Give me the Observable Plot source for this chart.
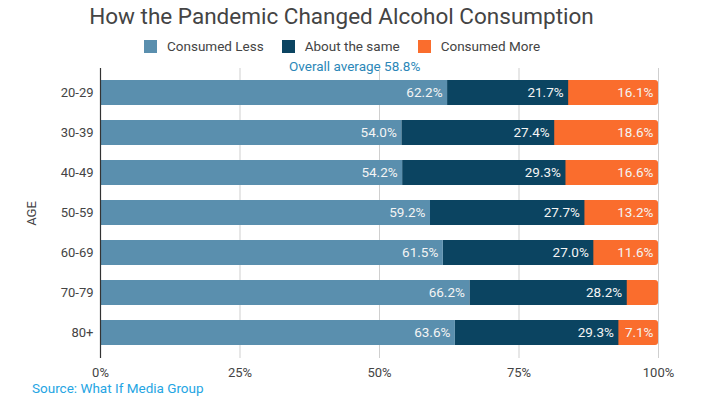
<!DOCTYPE html>
<html>
<head>
<meta charset="utf-8">
<script src="https://cdn.jsdelivr.net/npm/d3@7"></script>
<script src="https://cdn.jsdelivr.net/npm/@observablehq/plot@0.6"></script>
<style>
  html, body { margin: 0; padding: 0; background: #fff; }
  body { font-family: Roboto, "Liberation Sans", Arial, sans-serif; width: 703px; height: 399px; position: relative; overflow: hidden; }
  #title { position: absolute; left: 0; top: 0; width: 683px; height: 32px; line-height: 32px; font-size: 22.5px; color: #444; text-align: center; white-space: nowrap; }
  #legend { position: absolute; left: 144px; top: 38px; height: 16px; display: flex; align-items: center; font-size: 13.5px; color: #444; white-space: nowrap; }
  .item { display: flex; align-items: center; margin-right: 18px; }
  .sw { width: 13px; height: 13px; margin-right: 10px; }
  #avg { position: absolute; left: 289px; top: 59px; font-size: 13.5px; line-height: 15px; color: #2b87b8; white-space: nowrap; }
  #chart { position: absolute; left: 0; top: 57px; }
  #source { position: absolute; left: 32px; top: 380px; font-size: 13.5px; line-height: 16px; color: #25a5e3; white-space: nowrap; }
</style>
</head>
<body>
<div id="title"></div>
<div id="legend"></div>
<div id="avg"></div>
<div id="chart"></div>
<div id="source"></div>
<script>
const titleText = "How the Pandemic Changed Alcohol Consumption";
const avgText = "Overall average 58.8%";
const sourceText = "Source: What If Media Group";
const axisLabel = "AGE";

const ages = ["20-29", "30-39", "40-49", "50-59", "60-69", "70-79", "80+"];
const series = ["Consumed Less", "About the same", "Consumed More"];
const colors = ["#5a8fae", "#0b4461", "#fa6d2d"];
const lessVals = [62.2, 54.0, 54.2, 59.2, 61.5, 66.2, 63.6];
const sameVals = [21.7, 27.4, 29.3, 27.7, 27.0, 28.2, 29.3];
const moreVals = [16.1, 18.6, 16.6, 13.2, 11.6, 5.6, 7.1];
const moreShown = [true, true, true, true, true, false, true];
const xTicks = [0, 25, 50, 75, 100];

document.getElementById("title").textContent = titleText;
document.getElementById("avg").textContent = avgText;
document.getElementById("source").textContent = sourceText;

const legend = document.getElementById("legend");
series.forEach((s, i) => {
  const item = document.createElement("div");
  item.className = "item";
  const sw = document.createElement("div");
  sw.className = "sw";
  sw.style.background = colors[i];
  const t = document.createElement("span");
  t.textContent = s;
  item.appendChild(sw);
  item.appendChild(t);
  legend.appendChild(item);
});

// Build stacked rows (normalized to 100%)
const rows = [];
ages.forEach((age, i) => {
  const vals = [lessVals[i], sameVals[i], moreVals[i]];
  const shown = [true, true, moreShown[i]];
  const total = vals[0] + vals[1] + vals[2];
  let cum = 0;
  vals.forEach((v, j) => {
    const x1 = cum / total * 100;
    cum += v;
    const x2 = cum / total * 100;
    rows.push({age, series: series[j], value: v, x1, x2, shown: shown[j]});
  });
});

const byS = s => rows.filter(d => d.series === s);

const chart = Plot.plot({
  width: 703,
  height: 323,
  marginTop: 11,
  marginBottom: 22,
  marginLeft: 100,
  marginRight: 45,
  style: { fontFamily: "Roboto, 'Liberation Sans', Arial, sans-serif", fontSize: "13px", color: "#444", background: "transparent" },
  x: { domain: [0, 100], ticks: xTicks, tickFormat: d => d + "%", tickSize: 0, tickPadding: 9, label: null },
  y: { domain: ages, paddingInner: 0.37, paddingOuter: 0.3, tickSize: 0, tickPadding: 7, label: axisLabel, labelAnchor: "center", labelOffset: 74 },
  color: { domain: series, range: colors },
  marks: [
    Plot.ruleX(xTicks.slice(1), { stroke: "#cfcfcf", strokeWidth: 1 }),
    Plot.barX(byS(series[2]), { x1: "x1", x2: "x2", y: "age", fill: "series", rx: 3, insetLeft: -5 }),
    Plot.barX(byS(series[1]), { x1: "x1", x2: "x2", y: "age", fill: "series" }),
    Plot.barX(byS(series[0]), { x1: "x1", x2: "x2", y: "age", fill: "series" }),
    Plot.ruleX([0], { stroke: "#333", strokeWidth: 1.2 }),
    Plot.text(rows.filter(d => d.shown), {
      x: "x2", y: "age", text: d => d.value.toFixed(1) + "%",
      textAnchor: "end", dx: -5, fill: "#f4f4f4", fontSize: 13.5, fontWeight: 400
    })
  ]
});
document.getElementById("chart").appendChild(chart);
</script>
</body>
</html>
